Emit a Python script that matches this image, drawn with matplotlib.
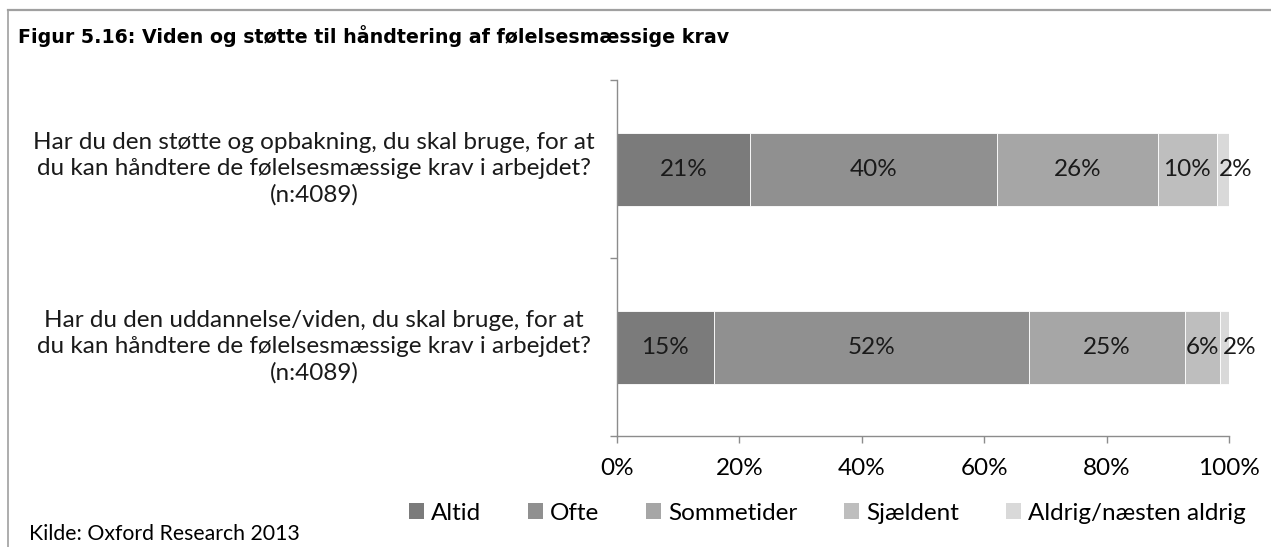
import matplotlib
matplotlib.use("Agg")
import matplotlib.pyplot as plt
from matplotlib.patches import Patch
from matplotlib.lines import Line2D

# data
questions = [
    "Har du den støtte og opbakning, du skal bruge, for at\ndu kan håndtere de følelsesmæssige krav i arbejdet?\n(n:4089)",
    "Har du den uddannelse/viden, du skal bruge, for at\ndu kan håndtere de følelsesmæssige krav i arbejdet?\n(n:4089)",
]
answers = ["Altid", "Ofte", "Sommetider", "Sjældent", "Aldrig/næsten aldrig"]
altid = [21.7, 15.8]
ofte = [40.4, 51.5]
sommetider = [26.3, 25.5]
sjaeldent = [9.6, 5.8]
aldrig = [2.0, 1.4]
labels = [
    ["21%", "40%", "26%", "10%", "2%"],
    ["15%", "52%", "25%", "6%", "2%"],
]
ticks = [0, 20, 40, 60, 80, 100]
tick_labels = ["0%", "20%", "40%", "60%", "80%", "100%"]

colors = ["#7b7b7b", "#909090", "#a6a6a6", "#bebebe", "#d9d9d9"]
font = ["Lato", "DejaVu Sans"]
fs = 17.5

fig = plt.figure(figsize=(12.71, 5.47), dpi=100)
ax = fig.add_axes([0.4854, 0.2029, 0.4815, 0.6508])

series = [altid, ofte, sommetider, sjaeldent, aldrig]
ypos = [1, 0]
left = [0.0, 0.0]
for i, vals in enumerate(series):
    ax.barh(ypos, vals, left=left, height=0.41, color=colors[i],
            edgecolor="white", linewidth=0.6, label=answers[i])
    for j in range(len(ypos)):
        if i == len(series) - 1:
            # last small segment: label pushed to the right, like excel does
            ax.annotate(labels[j][i], (left[j], ypos[j]), xytext=(1.5, 0),
                        textcoords="offset points", ha="left", va="center",
                        fontsize=fs, family=font, color="#1a1a1a")
        else:
            ax.text(left[j] + vals[j] / 2, ypos[j], labels[j][i], ha="center",
                    va="center", fontsize=fs, family=font, color="#1a1a1a")
    left = [left[k] + vals[k] for k in range(len(left))]

ax.set_xlim(0, 100)
ax.set_ylim(-0.5, 1.5)
ax.set_xticks(ticks)
ax.set_xticklabels(tick_labels, family=font, fontsize=fs)
ax.set_yticks([-0.5, 0.5, 1.5])
ax.set_yticklabels([])
for s in ["top", "right"]:
    ax.spines[s].set_visible(False)
for s in ["left", "bottom"]:
    ax.spines[s].set_color("#8c8c8c")
    ax.spines[s].set_linewidth(1)
ax.tick_params(axis="both", color="#8c8c8c", length=5, width=1)
ax.tick_params(axis="x", pad=11)

for j, q in enumerate(questions):
    ax.text(-0.495, ypos[j], q, transform=ax.get_yaxis_transform(),
            ha="center", va="center", fontsize=fs, family=font,
            linespacing=1.3, color="#1a1a1a")

handles = [Patch(facecolor=c, edgecolor="none") for c in colors]
fig.legend(handles, answers, loc="center", bbox_to_anchor=(0.651, 0.062),
           ncol=5, frameon=False, prop={"family": font, "size": fs},
           handlelength=0.62, handleheight=0.62, handletextpad=0.29,
           columnspacing=1.93, borderpad=0, borderaxespad=0)

fig.text(0.014, 0.935, "Figur 5.16: Viden og støtte til håndtering af følelsesmæssige krav",
         fontsize=13.7, fontweight="bold", family=["DejaVu Sans"], va="center")
fig.text(0.023, 0.024, "Kilde: Oxford Research 2013", fontsize=15.3, family=font,
         va="center")

# frame lines around the figure
fig.add_artist(Line2D([0.006, 1.0], [0.981, 0.981], transform=fig.transFigure,
                      color="#a0a0a0", linewidth=1.6))
fig.add_artist(Line2D([0.006, 0.006], [0.0, 0.981], transform=fig.transFigure,
                      color="#a0a0a0", linewidth=1.2))

fig.savefig("out.png", dpi=100)
